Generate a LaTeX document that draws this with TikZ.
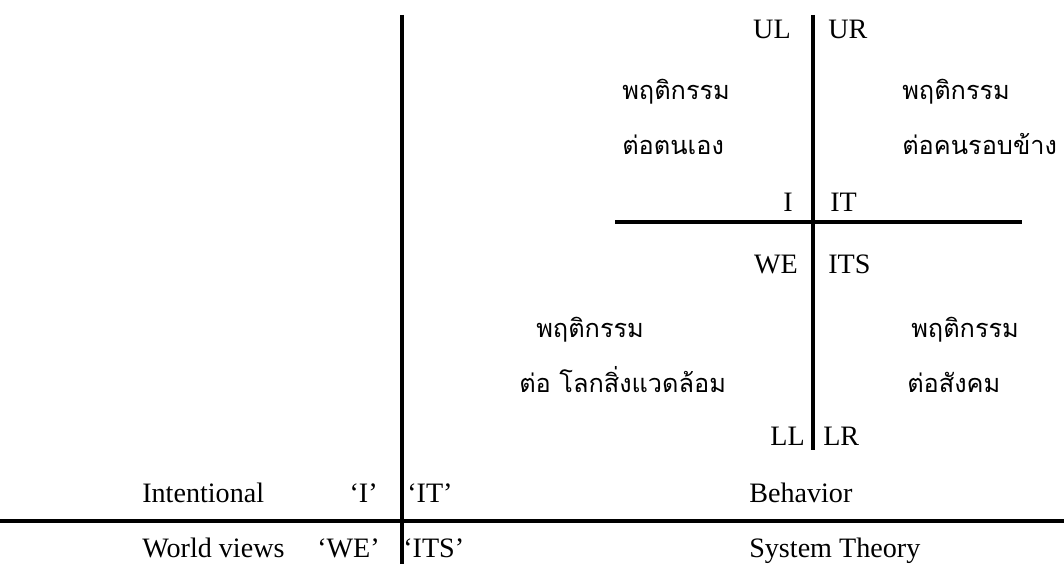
\documentclass[tikz,border=0pt]{standalone}
\usepackage{fontspec}
\setmainfont{Liberation Serif}
\newfontfamily\thaifont[Script=Thai]{Loma}
\begin{document}
\begin{tikzpicture}[x=0.025cm,y=-0.025cm,
  lbl/.style={font=\fontsize{20}{24}\selectfont,inner sep=0pt},
  thai/.style={font=\thaifont\fontsize{18}{22}\selectfont,inner sep=0pt,anchor=base west},
  axis/.style={line width=2.4pt}]
  \useasboundingbox (0,0) rectangle (1064,564);
  % main axes
  \draw[axis] (402,15)--(402,564);
  \draw[axis] (0,521)--(1064,521);
  % quadrant cross
  \draw[axis] (813,15)--(813,450);
  \draw[axis] (615,222)--(1022,222);
  % quadrant corner labels
  \node[lbl,anchor=base east] (ul) at (791,39) {UL};
  \node[lbl,anchor=base west] (ur) at (828,39) {UR};
  \node[lbl,anchor=base east] (qi) at (793,211) {I};
  \node[lbl,anchor=base west] (qit) at (830,211) {IT};
  \node[lbl,anchor=base east] (qwe) at (798,273) {WE};
  \node[lbl,anchor=base west] (qits) at (828,273) {ITS};
  \node[lbl,anchor=base east] (ll) at (805,445) {LL};
  \node[lbl,anchor=base west] (lr) at (823,445) {LR};
  % thai texts
  \node[thai] (ula) at (622,100) {พฤติกรรม};
  \node[thai] (ulb) at (622,155) {ต่อตนเอง};
  \node[thai] (ura) at (902,100) {พฤติกรรม};
  \node[thai] (urb) at (902,155) {ต่อคนรอบข้าง};
  \node[thai] (lla) at (536,337) {พฤติกรรม};
  \node[thai] (llb) at (519,392) {ต่อ โลกสิ่งแวดล้อม};
  \node[thai] (lra) at (911,337) {พฤติกรรม};
  \node[thai] (lrb) at (907,392) {ต่อสังคม};
  % bottom table
  \node[lbl,anchor=base west] (intent) at (142,502) {Intentional};
  \node[lbl,anchor=base east] (qti) at (378,502) {‘I’};
  \node[lbl,anchor=base west] (qtit) at (407,502) {‘IT’};
  \node[lbl,anchor=base west] (behav) at (749,502) {Behavior};
  \node[lbl,anchor=base west] (world) at (142,557) {World views};
  \node[lbl,anchor=base east] (qtwe) at (380,557) {‘WE’};
  \node[lbl,anchor=base west] (qtits) at (403,557) {‘ITS’};
  \node[lbl,anchor=base west] (systh) at (749,557) {System Theory};
\end{tikzpicture}
\end{document}
